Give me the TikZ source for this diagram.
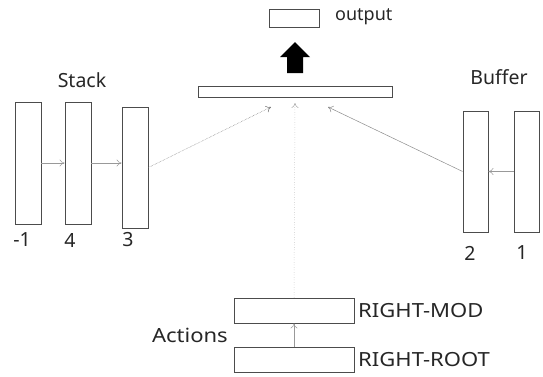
\documentclass[tikz,border=0pt]{standalone}
\usepackage{fontspec}
\setmainfont{Noto Sans}
\newfontfamily\widefont[FakeStretch=1.13]{Noto Sans}
\usetikzlibrary{arrows.meta}
\begin{document}
\begin{tikzpicture}[x=1pt,y=-1pt,
  box/.style={draw=black!70,line width=0.8pt,fill=white,inner sep=0pt,anchor=center},
  conn/.style={draw=black!40,line width=0.5pt,-{To[length=5pt,width=7pt]}},
  lbl/.style={font=\fontsize{19.5}{22}\selectfont,text=black!85,inner sep=0pt},
  wlbl/.style={font=\widefont\fontsize{19.5}{22}\selectfont,text=black!85,inner sep=0pt}]
\useasboundingbox (0,0) rectangle (543,376);
% stack
\node[box,minimum width=26pt,minimum height=122pt] (sm1) at (28,163) {};
\node[box,minimum width=26pt,minimum height=122pt] (s4) at (78,163) {};
\node[box,minimum width=26pt,minimum height=121pt] (s3) at (135,167.5) {};
% buffer
\node[box,minimum width=25pt,minimum height=121pt] (b2) at (475.5,171.5) {};
\node[box,minimum width=25pt,minimum height=121pt] (b1) at (526.5,171.5) {};
% bar and output
\node[box,minimum width=194pt,minimum height=11pt] (bar) at (295,91.5) {};
\node[box,minimum width=50pt,minimum height=18pt] (out) at (294,18) {};
% actions
\node[box,minimum width=120pt,minimum height=25pt] (mod) at (294,310.5) {};
\node[box,minimum width=120pt,minimum height=25pt] (root) at (294,359.5) {};
% labels
\node[lbl] (tstack) at (82,80) {Stack};
\node[lbl] (tbuf) at (499,77) {Buffer};
\node[lbl,anchor=west,font=\fontsize{18}{21}\selectfont] (tout) at (335,17) {output};
\node[lbl] (tm1) at (22,240) {-1};
\node[lbl] (t4) at (70,240) {4};
\node[lbl] (t3) at (128,240) {3};
\node[lbl] (t2) at (470,253) {2};
\node[lbl] (t1) at (522,253) {1};
\node[wlbl,anchor=west] (tmod) at (358,310.5) {RIGHT-MOD};
\node[wlbl,anchor=west] (troot) at (358,359.5) {RIGHT-ROOT};
\node[wlbl,anchor=east] (tact) at (228,335) {Actions};
% thick arrow
\fill[black] (287,73) -- (303,73) -- (303,57) -- (310,57) -- (295,42) -- (280,57) -- (287,57) -- cycle;
% connectors
\coordinate (el) at (271,107);
\coordinate (er) at (328,107);
\coordinate (ec) at (295,103);
\draw[conn] (sm1.east |- 0,163) -- (s4.west |- 0,163);
\draw[conn] (s4.east |- 0,163) -- (s3.west |- 0,163);
\draw[conn,draw=black!55,densely dotted] (s3.east) -- (el);
\draw[conn] (b1.west) -- (b2.east);
\draw[conn,draw=black!45] (b2.west) -- (er);
\draw[conn,draw=black!35,dotted] (mod.north) -- (ec);
\draw[conn] (root.north) -- (mod.south);
\end{tikzpicture}
\end{document}
